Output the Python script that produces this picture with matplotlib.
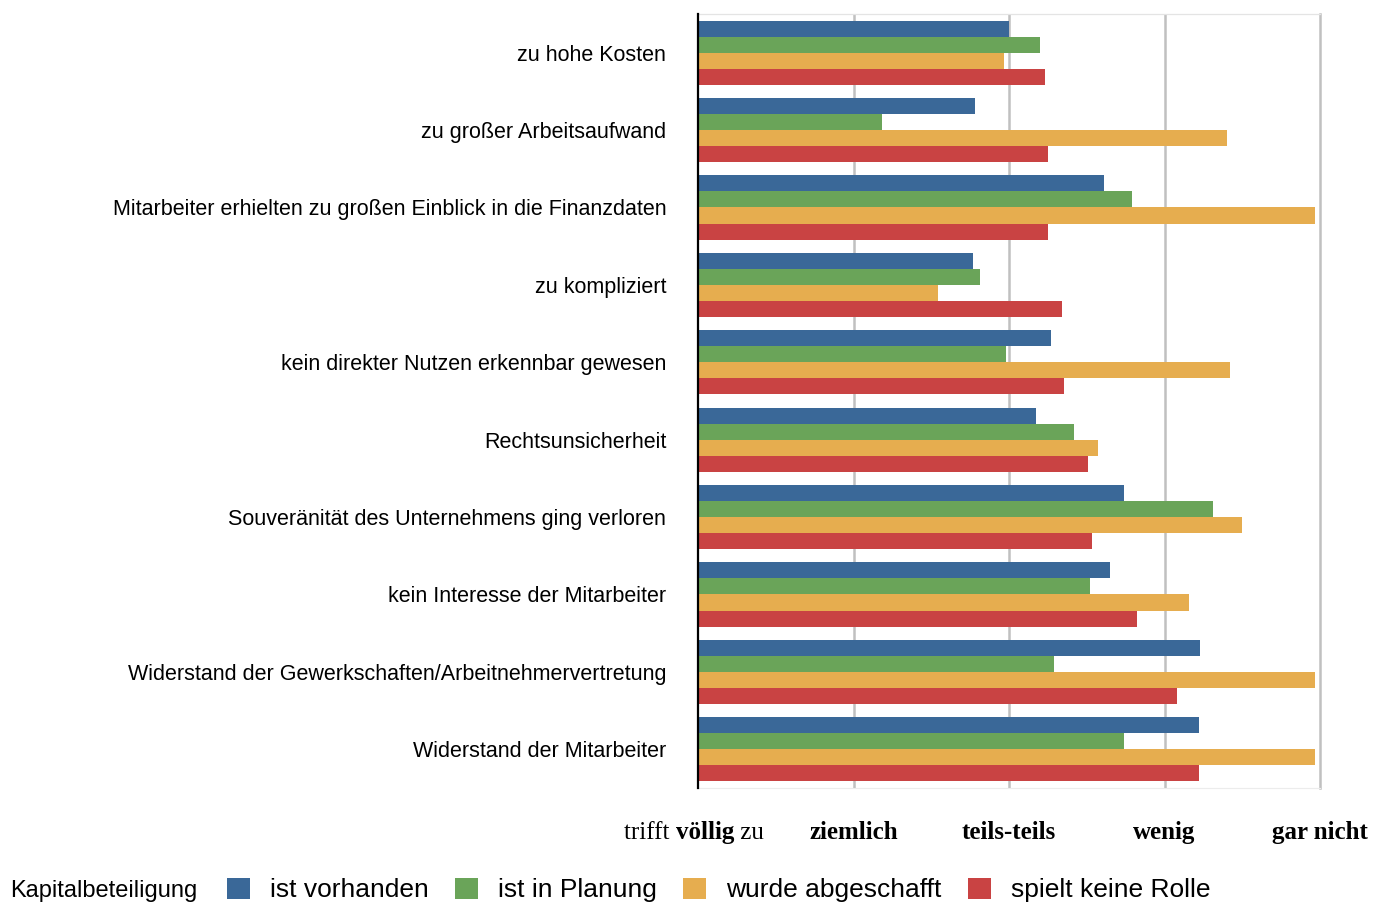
import numpy as np
import matplotlib
matplotlib.use("Agg")
import matplotlib.pyplot as plt
from matplotlib.patches import Patch

categories = ["zu hohe Kosten",
              "zu großer Arbeitsaufwand",
              "Mitarbeiter erhielten zu großen Einblick in die Finanzdaten",
              "zu kompliziert",
              "kein direkter Nutzen erkennbar gewesen",
              "Rechtsunsicherheit",
              "Souveränität des Unternehmens ging verloren",
              "kein Interesse der Mitarbeiter",
              "Widerstand der Gewerkschaften/Arbeitnehmervertretung",
              "Widerstand der Mitarbeiter"]

vorhanden   = [3.00, 2.78, 3.61, 2.77, 3.27, 3.17, 3.74, 3.65, 4.23, 4.22]
planung     = [3.20, 2.18, 3.79, 2.81, 2.98, 3.42, 4.31, 3.52, 3.29, 3.74]
abgeschafft = [2.97, 4.40, 4.97, 2.54, 4.42, 3.57, 4.50, 4.16, 4.97, 4.97]
keine_rolle = [3.23, 3.25, 3.25, 3.34, 3.35, 3.51, 3.53, 3.82, 4.08, 4.22]

series = [vorhanden, planung, abgeschafft, keine_rolle]
series_names = ["ist vorhanden", "ist in Planung", "wurde abgeschafft", "spielt keine Rolle"]
colors = ["#3a6898", "#6aa459", "#e6ad4f", "#c94343"]

scale_ticks = [1, 2, 3, 4, 5]
scale_labels = ["trifft völlig zu", "ziemlich", "teils-teils", "wenig", "gar nicht"]

fig = plt.figure(figsize=(13.81, 9.05), dpi=100)
ax = fig.add_axes([698.3/1381, 1-788/905, (1320-698.3)/1381, (788-14)/905])

y = np.arange(len(categories))
h = 0.207
for i, (vals, col) in enumerate(zip(series, colors)):
    vals = np.array(vals)
    ax.barh(y + (i - 1.5)*h, vals - 1, left=1, height=h, color=col,
            edgecolor="none", zorder=3)

ax.set_xlim(1, 5)
ax.set_ylim(len(categories) - 0.5, -0.5)

# gitter
for xv in [2, 3, 4]:
    ax.axvline(xv, color="#c0c0c0", lw=1.8, zorder=1)

ax.spines["left"].set_color("black")
ax.spines["left"].set_linewidth(1.6)
ax.spines["left"].set_zorder(5)
ax.spines["right"].set_color("#c0c0c0")
ax.spines["right"].set_linewidth(1.8)
ax.spines["top"].set_color("#e4e4e4")
ax.spines["top"].set_linewidth(0.9)
ax.spines["bottom"].set_color("#ececec")
ax.spines["bottom"].set_linewidth(0.8)

ax.set_yticks(y)
ax.set_yticklabels(categories, family="Liberation Sans", fontsize=15.5)
ax.tick_params(axis="y", length=0, pad=23)

ax.set_xticks(scale_ticks)
ax.set_xticklabels([""] + scale_labels[1:], family="Liberation Serif",
                   fontweight="bold", fontsize=18)
ax.tick_params(axis="x", length=0, pad=24)

# erstes label mit gemischter schrift
mid = ax.annotate("völlig", xy=(1.045, 0), xycoords=("data", "axes fraction"),
                  xytext=(0, -24), textcoords="offset points",
                  ha="center", va="top", family="Liberation Serif",
                  fontweight="bold", fontsize=18)
ax.annotate("trifft ", xy=(0, 0), xycoords=mid, ha="right", va="bottom",
            family="Liberation Serif", fontsize=18)
ax.annotate(" zu", xy=(1, 0), xycoords=mid, ha="left", va="bottom",
            family="Liberation Serif", fontsize=18)

# legende
fig.text(10/1381, 1-891/905, "Kapitalbeteiligung", family="Liberation Sans",
         fontsize=17, ha="left", va="center")
handles = [Patch(facecolor=c, edgecolor="none") for c in colors]
fig.legend(handles, series_names, loc="center left",
           bbox_to_anchor=(227/1381, 1-890/905), ncol=4, frameon=False,
           prop={"family": "Liberation Sans", "size": 19},
           handlelength=0.87, handleheight=0.87, handletextpad=0.76,
           columnspacing=1.0, borderpad=0, borderaxespad=0)

fig.savefig("out.png", dpi=100)
